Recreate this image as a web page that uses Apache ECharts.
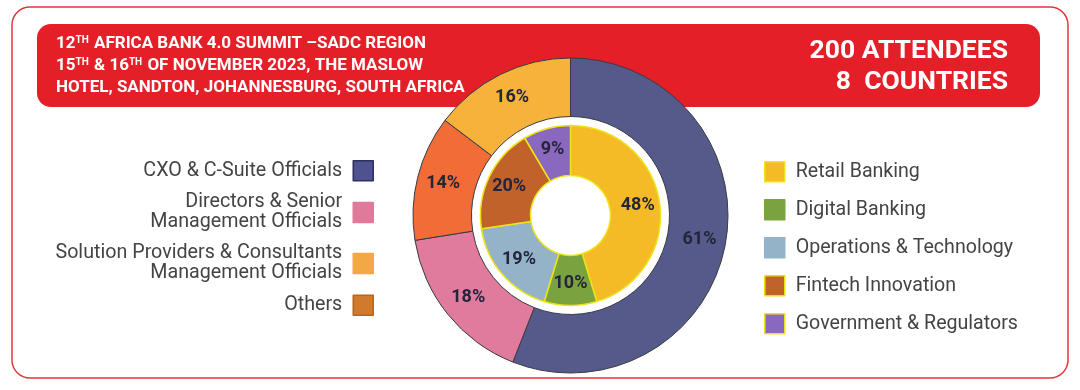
<!DOCTYPE html>
<html><head><meta charset="utf-8">
<script src="https://cdn.jsdelivr.net/npm/echarts@6/dist/echarts.min.js"></script>
<style>html,body{margin:0;padding:0;background:#fff}#c{width:1080px;height:390px}</style>
</head><body><div id="c"></div>
<script>
// ---- data ----
const outerNames = ['CXO & C-Suite Officials', 'Directors & Senior Management Officials', 'Others', 'Solution Providers & Consultants Management Officials'];
const outerValues = [61, 18, 14, 16];
const outerLegendOrder = ['CXO & C-Suite Officials', 'Directors & Senior Management Officials', 'Solution Providers & Consultants Management Officials', 'Others'];
const outerLegendText = ['CXO & C-Suite Officials', 'Directors & Senior\nManagement Officials', 'Solution Providers & Consultants\nManagement Officials', 'Others'];
const innerNames = ['Retail Banking', 'Digital Banking', 'Operations & Technology', 'Fintech Innovation', 'Government & Regulators'];
const innerValues = [48, 10, 19, 20, 9];
const headerLeftLines = [
  ['12', 'TH', ' AFRICA BANK 4.0 SUMMIT \u2013SADC REGION'],
  ['15', 'TH', ' & 16', 'TH', ' OF NOVEMBER 2023, THE MASLOW'],
  ['HOTEL, SANDTON, JOHANNESBURG, SOUTH AFRICA']
];
const headerRightLines = ['200 ATTENDEES', '8  COUNTRIES'];

// ---- styles ----
const outerColors = ['#555a8b', '#e07b9d', '#f26c37', '#f7b23b'];
const outerLegendColors = {
  'CXO & C-Suite Officials': ['#4f5291', '#2e3060'],
  'Directors & Senior Management Officials': ['#e07a9b', '#e07a9b'],
  'Solution Providers & Consultants Management Officials': ['#f2a844', '#f2a844'],
  'Others': ['#cf7a2c', '#b5651f']
};
const innerColors = ['#f5bb27', '#7aa23e', '#94b3c8', '#c0622a', '#8a68c0'];
const innerBorders = ['#f3e21a', '#7aa23e', '#94b3c8', '#eedd10', '#efe020'];

function richLine(parts) {
  return parts.map((p, i) => (parts.length > 1 && i % 2 === 1) ? '{s|' + p + '}' : '{m|' + p + '}').join('');
}
const leftHeaderText = headerLeftLines.map(richLine).join('\n');

const chart = echarts.init(document.getElementById('c'), null, {renderer: 'canvas'});
const legendTextMap = {};
outerLegendOrder.forEach((n, i) => legendTextMap[n] = outerLegendText[i]);

const labelStyle = {show: true, position: 'inside', formatter: '{c}%', fontFamily: 'Roboto', fontWeight: 'bold', fontSize: 18, color: '#24243a'};

const rightHeaderGraphics = headerRightLines.map((t, i) => ({
  type: 'text', z: 1, right: 72, top: 38 + i * 30.5,
  style: {text: t, fill: '#fff', font: 'bold 26.5px Roboto'}
}));

chart.setOption({
  animation: false,
  backgroundColor: '#ffffff',
  textStyle: {fontFamily: 'Roboto'},
  graphic: [
    {type: 'rect', z: 0, shape: {x: 12, y: 7, width: 1056, height: 371, r: 18},
      style: {fill: '#ffffff', stroke: '#e2363d', lineWidth: 1.5}},
    {type: 'rect', z: 0, shape: {x: 37, y: 24, width: 1003, height: 83, r: 14},
      style: {fill: '#e41f27'}},
    {type: 'text', z: 1, left: 56, top: 33,
      style: {text: leftHeaderText, fill: '#fff',
        rich: {
          m: {fontFamily: 'Roboto', fontWeight: 'bold', fontSize: 17, lineHeight: 22, fill: '#fff', color: '#fff'},
          s: {fontFamily: 'Roboto', fontWeight: 'bold', fontSize: 10, lineHeight: 22, verticalAlign: 'top', fill: '#fff', color: '#fff', padding: [2, 1, 0, 0]}
        }}}
  ].concat(rightHeaderGraphics),
  legend: [
    {
      orient: 'vertical', right: 706, top: 160, align: 'right', padding: 0,
      itemWidth: 20, itemHeight: 20, itemGap: 11,
      icon: 'rect', selectedMode: false,
      data: outerLegendOrder.map(n => ({name: n, itemStyle: {color: outerLegendColors[n][0], borderColor: outerLegendColors[n][1], borderWidth: 1.5}})),
      formatter: n => legendTextMap[n],
      textStyle: {fontFamily: 'Roboto', fontSize: 19.7, lineHeight: 20, color: '#444444', padding: [0, 6, 0, 0]}
    },
    {
      orient: 'vertical', left: 764, top: 161, align: 'left', padding: 0,
      itemWidth: 20, itemHeight: 20, itemGap: 16.5,
      icon: 'rect', selectedMode: false,
      data: innerNames.map((n, i) => ({name: n, itemStyle: {color: innerColors[i], borderColor: innerBorders[i], borderWidth: 1.5}})),
      textStyle: {fontFamily: 'Roboto', fontSize: 19.6, lineHeight: 20, color: '#444444', padding: [0, 0, 0, 6]}
    }
  ],
  series: [
    {
      type: 'pie', z: 3, center: [570.5, 215.5], radius: [99, 157.5],
      startAngle: 90, clockwise: true, silent: true,
      label: labelStyle,
      labelLine: {show: false},
      itemStyle: {borderColor: '#3a3a44', borderWidth: 1},
      emphasis: {disabled: true},
      data: outerNames.map((n, i) => ({name: n, value: outerValues[i], itemStyle: {color: outerColors[i]}}))
    },
    {
      type: 'pie', z: 3, center: [570.5, 215.5], radius: [40, 90],
      startAngle: 90, clockwise: true, silent: true,
      label: labelStyle,
      labelLine: {show: false},
      itemStyle: {borderColor: '#ece31a', borderWidth: 1.5},
      emphasis: {disabled: true},
      data: innerNames.map((n, i) => ({name: n, value: innerValues[i], itemStyle: {color: innerColors[i]}}))
    }
  ]
});
</script>
</body></html>
